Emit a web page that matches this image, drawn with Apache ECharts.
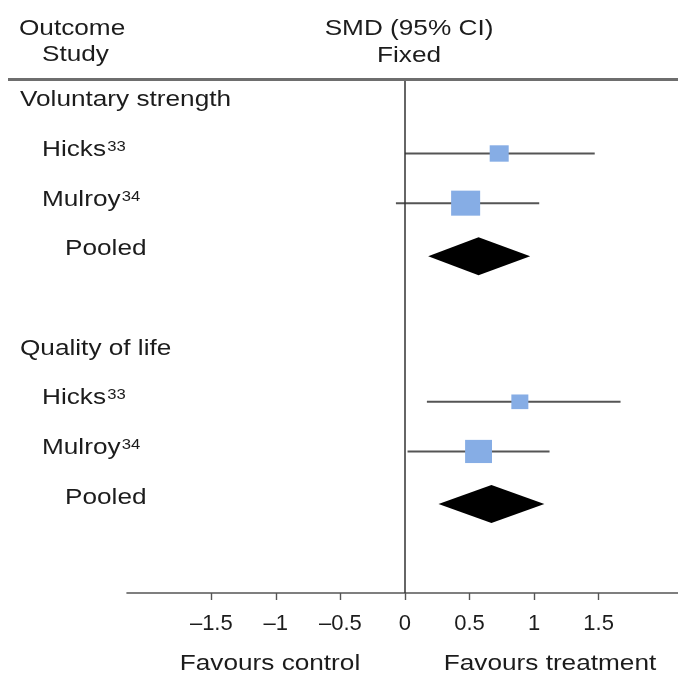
<!DOCTYPE html>
<html>
<head>
<meta charset="utf-8">
<script src="https://cdn.jsdelivr.net/npm/echarts@6/dist/echarts.min.js"></script>
<style>html,body{margin:0;padding:0;background:#fff}#c{width:678px;height:673px}</style>
</head>
<body>
<div id="c"></div>
<script>
// ---- data ----
var rowLabels = ['Voluntary strength', 'Hicks', 'Mulroy', 'Pooled', 'Quality of life', 'Hicks', 'Mulroy', 'Pooled'];
var rowSups = ['', '33', '34', '', '', '33', '34', ''];
var rowLevels = [0, 1, 1, 2, 0, 1, 1, 2];
var rowPos = [0, 1, 2, 3, 5, 6, 7, 8];

var studyRow = [1, 2, 6, 7];
var studyEst = [0.73, 0.47, 0.89, 0.57];
var studyLow = [0.00, -0.07, 0.17, 0.02];
var studyHigh = [1.47, 1.04, 1.67, 1.12];
var studyWeight = [30, 70, 24, 60];

var pooledRow = [3.07, 8.06];
var pooledEst = [0.57, 0.67];
var pooledLow = [0.18, 0.26];
var pooledHigh = [0.97, 1.08];

var tickValues = [-1.5, -1, -0.5, 0, 0.5, 1, 1.5];

// ---- styles ----
var FONT = 'Liberation Sans, Arial, sans-serif';
var SX = 1.19;          // horizontal stretch of the text in the reference
var TXT = '#1c1c1c';
var indentPx = [20, 42, 65];

var chart = echarts.init(document.getElementById('c'), null, {renderer: 'canvas'});

var studyData = studyRow.map(function (r, i) {
  return [studyEst[i], r, studyLow[i], studyHigh[i], studyWeight[i]];
});
var pooledData = pooledRow.map(function (r, i) {
  return [pooledEst[i], r, pooledLow[i], pooledHigh[i]];
});
var labelData = rowPos.map(function (r, i) { return [0, r, i]; });

function fmtTick(v) {
  if (v < 0) return '\u2013' + String(-v);
  return String(v);
}

function hText(str, x, y, align) {
  return {type: 'text', x: x, y: y, scaleX: SX,
    style: {text: str, font: '22px ' + FONT, fill: TXT, textAlign: align, textVerticalAlign: 'middle'}};
}

var option = {
  animation: false,
  backgroundColor: '#fff',
  grid: {left: 127, right: 0, top: 79, bottom: 80},
  xAxis: {
    type: 'value',
    min: -2.153,
    max: 2.115,
    splitLine: {show: false},
    axisLine: {show: true, onZero: false, lineStyle: {color: '#555', width: 1.6}},
    axisTick: {show: true, customValues: tickValues, length: 7, lineStyle: {color: '#555', width: 1.4}},
    axisLabel: {
      show: true, customValues: tickValues, formatter: fmtTick,
      fontFamily: FONT, fontSize: 22, color: TXT, margin: 20
    }
  },
  yAxis: {
    type: 'value', inverse: true, min: -0.5, max: 9.85, show: false
  },
  graphic: [
    {type: 'line', shape: {x1: 8, y1: 79.5, x2: 678, y2: 79.5}, style: {stroke: '#6e6e6e', lineWidth: 3}, z: 10},
    hText('Outcome', 19, 29, 'left'),
    hText('Study', 42, 55, 'left'),
    hText('SMD (95% CI)', 409, 29, 'center'),
    hText('Fixed', 409, 56, 'center'),
    hText('Favours control', 270, 664, 'center'),
    hText('Favours treatment', 550, 664, 'center')
  ],
  series: [
    {
      // row labels
      type: 'custom',
      data: labelData,
      silent: true,
      clip: false,
      renderItem: function (params, api) {
        var i = api.value(2);
        var y = api.coord([0, api.value(1)])[1] - 3.5;
        var txt = '{n|' + rowLabels[i] + '}' + (rowSups[i] ? '{s|' + rowSups[i] + '}' : '');
        return {
          type: 'text',
          x: indentPx[rowLevels[i]],
          y: y,
          scaleX: SX,
          style: {
            text: txt,
            textAlign: 'left',
            textVerticalAlign: 'middle',
            rich: {
              n: {fontFamily: FONT, fontSize: 22, lineHeight: 24, fill: TXT, color: TXT},
              s: {fontFamily: FONT, fontSize: 14, lineHeight: 14, fill: TXT, color: TXT, verticalAlign: 'top', padding: [2, 0, 0, 1]}
            }
          }
        };
      },
      markLine: {
        silent: true,
        symbol: ['none', 'none'],
        label: {show: false},
        lineStyle: {color: '#333', width: 1.5, type: 'solid'},
        data: [{xAxis: 0}]
      }
    },
    {
      // individual studies: CI line + square
      type: 'custom',
      data: studyData,
      silent: true,
      renderItem: function (params, api) {
        var c = api.coord([api.value(0), api.value(1)]);
        var lo = api.coord([api.value(2), api.value(1)]);
        var hi = api.coord([api.value(3), api.value(1)]);
        var w = 3.47 * Math.sqrt(api.value(4));
        var h = w / 1.16;
        return {
          type: 'group',
          children: [
            {type: 'line', shape: {x1: lo[0], y1: c[1], x2: hi[0], y2: c[1]}, style: {stroke: '#555', lineWidth: 2}},
            {type: 'rect', shape: {x: c[0] - w / 2, y: c[1] - h / 2, width: w, height: h}, style: {fill: '#86ADE5'}}
          ]
        };
      }
    },
    {
      // pooled diamonds
      type: 'custom',
      data: pooledData,
      silent: true,
      renderItem: function (params, api) {
        var c = api.coord([api.value(0), api.value(1)]);
        var lo = api.coord([api.value(2), api.value(1)]);
        var hi = api.coord([api.value(3), api.value(1)]);
        var hh = 19;
        return {
          type: 'polygon',
          shape: {points: [[lo[0], c[1]], [c[0], c[1] - hh], [hi[0], c[1]], [c[0], c[1] + hh]]},
          style: {fill: '#000'}
        };
      }
    }
  ]
};
chart.setOption(option);
</script>
</body>
</html>
